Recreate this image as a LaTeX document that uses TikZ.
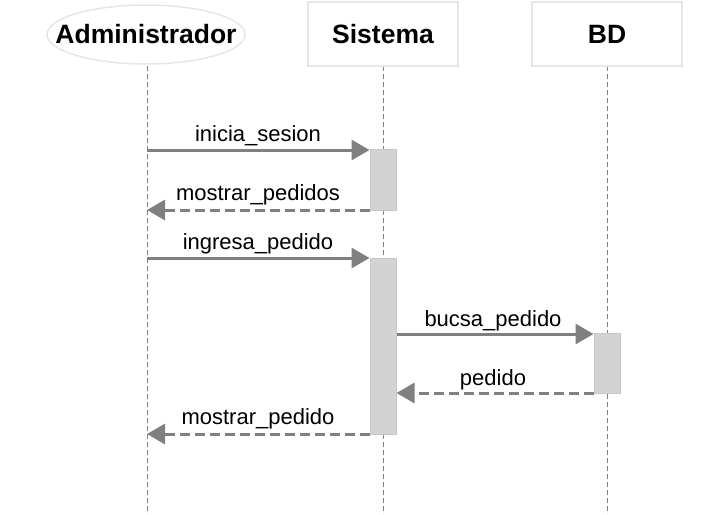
\documentclass[tikz,border=0pt]{standalone}
\usepackage{fontspec}
\setmainfont{Liberation Sans}
\usetikzlibrary{arrows.meta,shapes.geometric}
\definecolor{linegray}{HTML}{808080}
\definecolor{actfill}{HTML}{D3D3D3}
\definecolor{actdraw}{HTML}{C8C8C8}
\definecolor{boxdraw}{HTML}{E6E6E6}
\tikzset{
  headtext/.style={font=\fontsize{26.5}{30}\selectfont\bfseries,inner sep=0pt},
  headbox/.style={headtext,draw=boxdraw,line width=1.5pt,fill=white,rectangle,minimum width=150pt,minimum height=64pt},
  lifeline/.style={draw=linegray,line width=0.8pt,dash pattern=on 5pt off 3pt},
  actbox/.style={fill=actfill,draw=actdraw,line width=1pt,inner sep=0pt,minimum width=26pt},
  msg/.style={draw=linegray,line width=3pt,-{Triangle[length=18pt,width=20pt]}},
  ret/.style={msg,dash pattern=on 10pt off 5pt},
  lbl/.style={font=\fontsize{22}{26}\selectfont,inner sep=0pt,anchor=base}
}
\begin{document}
\begin{tikzpicture}[x=1pt,y=-1pt]
\useasboundingbox (0,0) rectangle (719,514);
% lifelines
\coordinate (la) at (147,66);
\coordinate (laend) at (147,514);
\coordinate (ls) at (383,66);
\coordinate (lsend) at (383,514);
\coordinate (lb) at (607,66);
\coordinate (lbend) at (607,514);
\draw[lifeline] (la) -- (laend);
\draw[lifeline] (ls) -- (lsend);
\draw[lifeline] (lb) -- (lbend);
% headers
\coordinate (admc) at (146,34.5);
\draw[draw=boxdraw,line width=1.5pt,fill=white] (admc) ellipse [x radius=99pt, y radius=29.5pt];
\node[headtext] (adm) at (admc) {Administrador};
\node[headbox] (sis) at (383,34) {Sistema};
\node[headbox] (bd) at (607,34) {BD};
% activations
\node[actbox,minimum height=61pt] (act1) at (383,179.5) {};
\node[actbox,minimum height=176pt] (act2) at (383,346) {};
\node[actbox,minimum height=60pt] (act3) at (607,363) {};
% message coordinates
\coordinate (m1s) at (147,150);
\coordinate (m2e) at (147,210);
\coordinate (m3s) at (147,258);
\coordinate (m6e) at (147,434);
% messages
\draw[msg] (m1s) -- (m1s -| act1.west);
\draw[ret] (m2e -| act1.west) -- (m2e);
\draw[msg] (m3s) -- (m3s -| act2.west);
\draw[msg] (act2.east |- 0,334) coordinate (m4s) -- (m4s -| act3.west);
\draw[ret] (act3.west |- 0,393) coordinate (m5s) -- (m5s -| act2.east);
\draw[ret] (m6e -| act2.west) -- (m6e);
% labels
\node[lbl] (t1) at (258,141) {inicia\_sesion};
\node[lbl] (t2) at (258,200) {mostrar\_pedidos};
\node[lbl] (t3) at (258,249) {ingresa\_pedido};
\node[lbl] (t4) at (493,326) {bucsa\_pedido};
\node[lbl] (t5) at (493,385) {pedido};
\node[lbl] (t6) at (258,424) {mostrar\_pedido};
\end{tikzpicture}
\end{document}
